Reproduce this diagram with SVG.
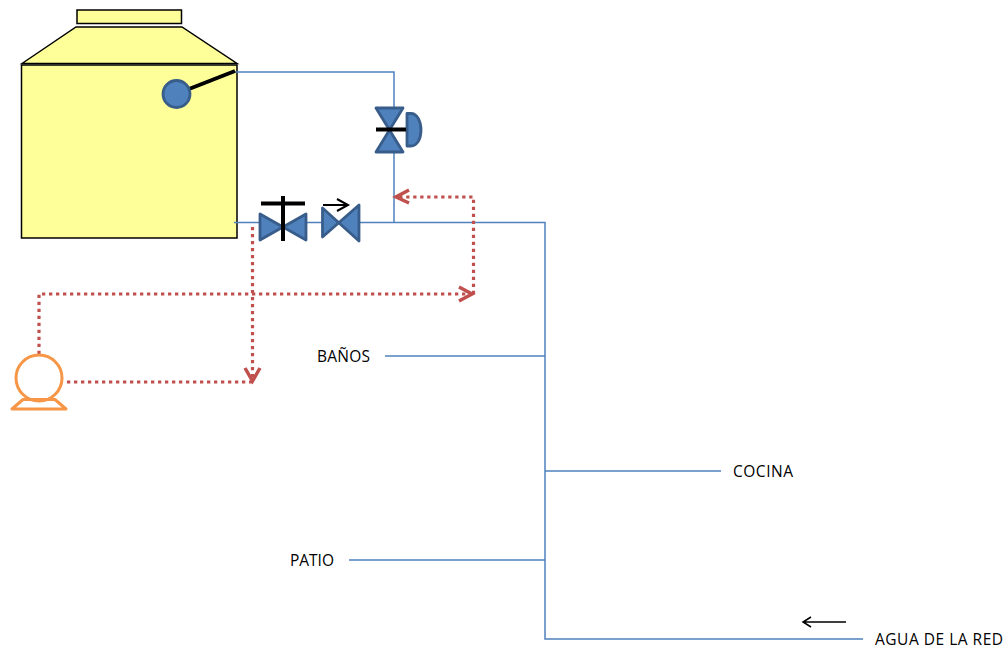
<svg xmlns="http://www.w3.org/2000/svg" width="1005" height="648" viewBox="0 0 1005 648">
<style>
.pipe{fill:none;stroke:#4f81bd;stroke-width:1.5}
.tank{fill:#ffff99;stroke:#000;stroke-width:1.5}
.valve{fill:#4f81bd;stroke:#385d8a;stroke-width:2.8;stroke-linejoin:round}
.blk{fill:none;stroke:#000;stroke-width:4}
.thin{fill:none;stroke:#000;stroke-width:1.5}
.flow{fill:none;stroke:#c0504d;stroke-width:3.2;stroke-dasharray:3.3 3.7}
.head{fill:none;stroke:#c0504d;stroke-width:3.5}
.pump{fill:none;stroke:#f79646;stroke-width:3;stroke-linejoin:round}
text{font-family:"Open Sans","Liberation Sans",sans-serif;font-size:15.5px;fill:#000}
</style>
<g id="tank">
<rect class="tank" x="77" y="10" width="104.500" height="13.500"/>
<path class="tank" d="M22 63.500L76 27H182L237 63.500Z"/>
<rect class="tank" x="21.500" y="65" width="215.500" height="173"/>
</g>
<g id="connectors">
<path class="pipe" d="M235 72H394V108M394 152V222M234 222.500H260M306 222.500H322M359 222.500H545V639H863M385 356H545M545 471H721M349 560H545"/>
<path class="flow" d="M39 354V294H473.500M473.500 294V197H400M252.500 227V378M67 382H252"/>
<path class="head" d="M459 287L472 294L459 301M409 190L396 197L409 203M245 368L252.500 381L260 368"/>
<path class="thin" d="M846 622H803M811 617L803 622L811 627"/>
</g>
<g id="float">
<path class="blk" d="M189 89L235 71"/>
<circle cx="176.500" cy="94" r="13.500" fill="#4f81bd" stroke="#385d8a" stroke-width="2.800"/>
</g>
<g id="float-valve">
<path class="valve" d="M376 108H403L376 152H403Z"/>
<path class="valve" d="M407 113.500H411C417 113.500 421 121 421 130C421 139 417 146 411 146H407Z"/>
<path class="blk" d="M376 129.500H406"/>
</g>
<g id="gate-valve">
<path class="valve" d="M260 214V240L306 214V240Z"/>
<path class="blk" d="M261 203.500H305M283 196V241"/>
</g>
<g id="check-valve">
<path class="valve" d="M322.500 208V237L359 205V241Z"/>
<path class="thin" style="stroke-width:2" d="M323 205H348M337 199L348 205L337 211"/>
</g>
<g id="pump">
<circle class="pump" cx="39" cy="378" r="23"/>
<path class="pump" d="M23 399.500L12 409H66L55 399.500Z"/>
</g>
<g id="labels">
<text id="banos" x="317" y="362" textLength="53">BAÑOS</text>
<text id="cocina" x="733" y="477" textLength="60">COCINA</text>
<text id="patio" x="290" y="566" textLength="44">PATIO</text>
<text id="red" x="875" y="645" textLength="128">AGUA DE LA RED</text>
</g>
</svg>
